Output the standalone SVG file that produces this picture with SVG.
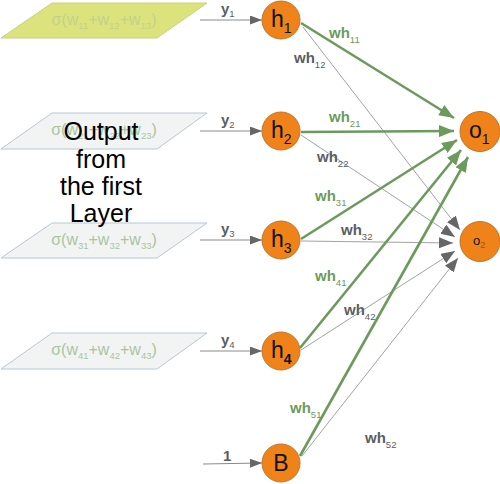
<svg xmlns="http://www.w3.org/2000/svg" width="500" height="484" viewBox="0 0 500 484">
<style>
.para{stroke:#b9c6d6;stroke-width:1;fill:#f2f4f4}
.ptxt{font-family:"Liberation Sans",Arial,sans-serif;font-size:16px;fill:#a9c4a0;text-anchor:middle}
.node{fill:#f0821a;stroke:#c0742c;stroke-width:1}
.nl{font-family:"Liberation Sans",Arial,sans-serif;font-size:23px;fill:#111}
.sub{font-size:14px}
.g{stroke:#6c9a5c;stroke-width:2.6;fill:none}
.k{stroke:#8a8a8a;stroke-width:0.8;fill:none}
.in{stroke:#8a8a8a;stroke-width:1;fill:none}
.lg{font-family:"Liberation Sans",Arial,sans-serif;font-size:15px;font-weight:bold;fill:#6c9a5c}
.lk{font-family:"Liberation Sans",Arial,sans-serif;font-size:15px;font-weight:bold;fill:#5a5e62}
.s9{font-size:9.5px;font-weight:normal}
.out{font-family:"Liberation Sans",Arial,sans-serif;font-size:25px;fill:#000;text-anchor:middle}
</style>
<defs>
<marker id="ag" markerUnits="userSpaceOnUse" markerWidth="16" markerHeight="12" refX="15" refY="6" orient="auto"><path d="M0,0 L15,6 L0,12 z" fill="#6c9a5c"/></marker>
<marker id="ak" markerUnits="userSpaceOnUse" markerWidth="15" markerHeight="12" refX="14" refY="5.5" orient="auto"><path d="M0,0 L14,5.5 L0,11 z" fill="#666"/></marker>
<marker id="ai" markerUnits="userSpaceOnUse" markerWidth="12" markerHeight="10" refX="12" refY="4.5" orient="auto"><path d="M0,0 L12,4.5 L0,9 z" fill="#666"/></marker>
</defs>

<g id="inputs">
<g id="in1">
<polygon points="52,3 207,3 157,38 1,38" style="fill:#dce37c;stroke:#c9d27c;stroke-width:1"/>
<text class="ptxt" x="104" y="25" style="fill:#c3d18c">σ(w<tspan class="s9" dy="4">11</tspan><tspan dy="-4">+w</tspan><tspan class="s9" dy="4">12</tspan><tspan dy="-4">+w</tspan><tspan class="s9" dy="4">13</tspan><tspan dy="-4">)</tspan></text>
</g>
<g id="in2">
<polygon class="para" points="52,113 207,113 157,149 1,149"/>
<text class="ptxt" x="104" y="135">σ(w<tspan class="s9" dy="4">21</tspan><tspan dy="-4">+w</tspan><tspan class="s9" dy="4">22</tspan><tspan dy="-4">+w</tspan><tspan class="s9" dy="4">23</tspan><tspan dy="-4">)</tspan></text>
</g>
<g id="in3">
<polygon class="para" points="52,223 207,223 157,258 1,258"/>
<text class="ptxt" x="104" y="245">σ(w<tspan class="s9" dy="4">31</tspan><tspan dy="-4">+w</tspan><tspan class="s9" dy="4">32</tspan><tspan dy="-4">+w</tspan><tspan class="s9" dy="4">33</tspan><tspan dy="-4">)</tspan></text>
</g>
<g id="in4">
<polygon class="para" points="52,333 207,333 157,369 1,369"/>
<text class="ptxt" x="104" y="355">σ(w<tspan class="s9" dy="4">41</tspan><tspan dy="-4">+w</tspan><tspan class="s9" dy="4">42</tspan><tspan dy="-4">+w</tspan><tspan class="s9" dy="4">43</tspan><tspan dy="-4">)</tspan></text>
</g>
<g id="caption">
<text class="out" x="101" y="140">Output</text>
<text class="out" x="101" y="168">from</text>
<text class="out" x="101" y="195">the first</text>
<text class="out" x="101" y="222">Layer</text>
</g>
</g>

<g id="connectors">
<line class="in" x1="200" y1="20" x2="262" y2="20" marker-end="url(#ai)"/>
<line class="in" x1="200" y1="131" x2="262" y2="131" marker-end="url(#ai)"/>
<line class="in" x1="200" y1="240" x2="262" y2="240" marker-end="url(#ai)"/>
<line class="in" x1="200" y1="351" x2="262" y2="351" marker-end="url(#ai)"/>
<line class="in" x1="203" y1="464" x2="262" y2="463" marker-end="url(#ai)"/>

<line class="k" x1="303" y1="27" x2="460" y2="230" marker-end="url(#ak)"/>
<line class="k" x1="301" y1="135" x2="455" y2="237" marker-end="url(#ak)"/>
<line class="k" x1="301" y1="241" x2="453" y2="243" marker-end="url(#ak)"/>
<line class="k" x1="301" y1="350" x2="455" y2="251" marker-end="url(#ak)"/>
<line class="k" x1="302" y1="456" x2="458" y2="258" marker-end="url(#ak)"/>

<line class="g" x1="301" y1="23" x2="454" y2="118" marker-end="url(#ag)"/>
<line class="g" x1="301" y1="132" x2="454" y2="131" marker-end="url(#ag)"/>
<line class="g" x1="301" y1="239" x2="457" y2="140" marker-end="url(#ag)"/>
<line class="g" x1="300" y1="348" x2="461" y2="150" marker-end="url(#ag)"/>
<line class="g" x1="300" y1="456" x2="468" y2="157" marker-end="url(#ag)"/>

<text class="lk" x="221" y="14">y<tspan class="s9" dy="3">1</tspan></text>
<text class="lk" x="221" y="125">y<tspan class="s9" dy="3">2</tspan></text>
<text class="lk" x="221" y="234">y<tspan class="s9" dy="3">3</tspan></text>
<text class="lk" x="221" y="345">y<tspan class="s9" dy="3">4</tspan></text>
<text class="lk" x="223" y="461">1</text>

<text class="lg" x="329" y="38">wh<tspan class="s9" dy="5">11</tspan></text>
<text class="lk" x="294" y="63">wh<tspan class="s9" dy="5">12</tspan></text>
<text class="lg" x="329" y="122">wh<tspan class="s9" dy="5">21</tspan></text>
<text class="lk" x="317" y="162">wh<tspan class="s9" dy="5">22</tspan></text>
<text class="lg" x="315" y="201">wh<tspan class="s9" dy="5">31</tspan></text>
<text class="lk" x="341" y="235">wh<tspan class="s9" dy="5">32</tspan></text>
<text class="lg" x="315" y="281">wh<tspan class="s9" dy="5">41</tspan></text>
<text class="lk" x="344" y="315">wh<tspan class="s9" dy="5">42</tspan></text>
<text class="lg" x="290" y="413">wh<tspan class="s9" dy="5">51</tspan></text>
<text class="lk" x="365" y="443">wh<tspan class="s9" dy="5">52</tspan></text>
</g>

<g id="h1"><circle class="node" cx="281" cy="20" r="19"/><text class="nl" x="271" y="27">h<tspan class="sub" dy="6">1</tspan></text></g>
<g id="h2"><circle class="node" cx="281" cy="131" r="19"/><text class="nl" x="271" y="138">h<tspan class="sub" dy="6">2</tspan></text></g>
<g id="h3"><circle class="node" cx="281" cy="240" r="19"/><text class="nl" x="271" y="247">h<tspan class="sub" dy="6">3</tspan></text></g>
<g id="h4"><circle class="node" cx="281" cy="351" r="19"/><text class="nl" x="271" y="358">h<tspan class="sub" dy="6" font-weight="bold">4</tspan></text></g>
<g id="B"><circle class="node" cx="281" cy="463" r="19"/><text class="nl" x="281" y="471" text-anchor="middle">B</text></g>
<g id="o1"><circle class="node" cx="480" cy="131.5" r="20"/><text class="nl" x="469" y="138">o<tspan class="sub" dy="6">1</tspan></text></g>
<g id="o2"><circle class="node" cx="480" cy="241.5" r="20"/><text class="nl" x="473" y="245" style="font-size:13px">o<tspan dy="3" style="font-size:9px;fill:#a4520f">2</tspan></text></g>
</svg>
